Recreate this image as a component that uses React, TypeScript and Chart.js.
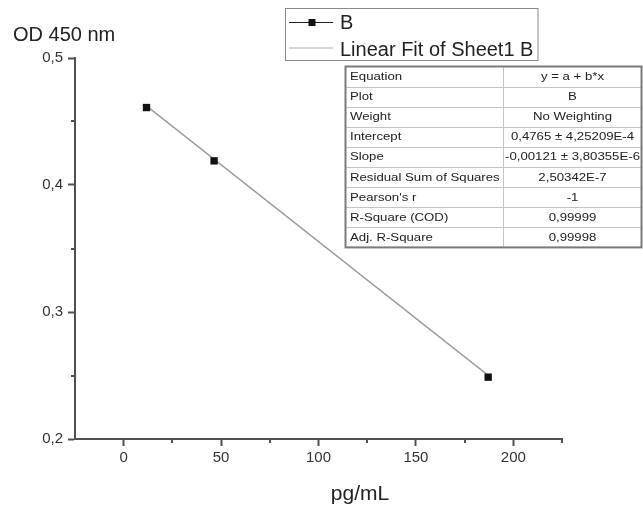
import React, { useEffect, useRef } from "react";
import { Chart, registerables } from "chart.js";

Chart.register(...registerables);

// ---- data ----
const pointsX = [11.7, 46.4, 187.1];
const pointsY = [0.461, 0.419, 0.2487];
const fitX = [11.7, 187.1];
const fitY = [0.4623, 0.2501];

const xMajorTicks = [0, 50, 100, 150, 200];
const xMinorTicks = [25, 75, 125, 175, 225];
const yMajorTicks = [0.2, 0.3, 0.4, 0.5];
const yMinorTicks = [0.25, 0.35, 0.45];

const legendLabels = ["B", "Linear Fit of Sheet1 B"];
const xTitle = "pg/mL";
const yTitle = "OD 450 nm";

const tableLabels = [
  "Equation",
  "Plot",
  "Weight",
  "Intercept",
  "Slope",
  "Residual Sum of Squares",
  "Pearson's r",
  "R-Square (COD)",
  "Adj. R-Square",
];
const tableValues = [
  "y = a + b*x",
  "B",
  "No Weighting",
  "0,4765 ± 4,25209E-4",
  "-0,00121 ± 3,80355E-6",
  "2,50342E-7",
  "-1",
  "0,99999",
  "0,99998",
];

const FONT = "'Liberation Sans', Arial, Helvetica, sans-serif";
const AXIS_COLOR = "#505050";

const overlayPlugin = {
  id: "originOverlay",
  afterDraw(chart: any) {
    const ctx: CanvasRenderingContext2D = chart.ctx;
    const xs = chart.scales.x;
    const ys = chart.scales.y;
    const area = chart.chartArea;
    ctx.save();

    // minor ticks
    ctx.strokeStyle = AXIS_COLOR;
    ctx.lineWidth = 2;
    ctx.beginPath();
    xMinorTicks.forEach((v) => {
      const px = Math.round(xs.getPixelForValue(v));
      ctx.moveTo(px, area.bottom);
      ctx.lineTo(px, area.bottom + 4);
    });
    yMinorTicks.forEach((v) => {
      const py = Math.round(ys.getPixelForValue(v));
      ctx.moveTo(area.left, py);
      ctx.lineTo(area.left - 4, py);
    });
    ctx.stroke();

    // axis titles
    ctx.fillStyle = "#222";
    ctx.font = `20px ${FONT}`;
    ctx.textBaseline = "middle";
    ctx.textAlign = "left";
    ctx.fillText(yTitle, 13, 35);
    ctx.font = `21px ${FONT}`;
    ctx.textAlign = "center";
    ctx.textBaseline = "alphabetic";
    ctx.fillText(xTitle, 360, 500);

    // legend box
    ctx.fillStyle = "#fff";
    ctx.fillRect(285.5, 8.5, 252.5, 52);
    ctx.strokeStyle = "#8a8a8a";
    ctx.lineWidth = 1;
    ctx.strokeRect(285.5, 8.5, 252.5, 52);
    // row 1 sample
    ctx.strokeStyle = "#222";
    ctx.lineWidth = 1;
    ctx.beginPath();
    ctx.moveTo(289, 22.5);
    ctx.lineTo(333, 22.5);
    ctx.stroke();
    ctx.fillStyle = "#111";
    ctx.fillRect(308.5, 19, 7, 7);
    // row 2 sample
    ctx.strokeStyle = "#b0b0b0";
    ctx.beginPath();
    ctx.moveTo(289, 48);
    ctx.lineTo(333, 48);
    ctx.stroke();
    ctx.fillStyle = "#222";
    ctx.font = `20px ${FONT}`;
    ctx.textAlign = "left";
    ctx.textBaseline = "middle";
    ctx.fillText(legendLabels[0], 340, 23);
    ctx.fillText(legendLabels[1], 340, 50);

    // table
    const tLeft = 345.5;
    const tRight = 641.5;
    const tTop = 66.5;
    const rowH = 20.1;
    const divX = 503.5;
    const tBottom = tTop + rowH * tableLabels.length;
    ctx.fillStyle = "#fff";
    ctx.fillRect(tLeft, tTop, tRight - tLeft, tBottom - tTop);
    ctx.strokeStyle = "#c4c4c4";
    ctx.lineWidth = 1;
    ctx.beginPath();
    for (let i = 1; i < tableLabels.length; i++) {
      const y = Math.round(tTop + rowH * i) + 0.5;
      ctx.moveTo(tLeft, y);
      ctx.lineTo(tRight, y);
    }
    ctx.moveTo(divX, tTop);
    ctx.lineTo(divX, tBottom);
    ctx.stroke();
    ctx.strokeStyle = "#7a7a7a";
    ctx.lineWidth = 2;
    ctx.strokeRect(tLeft, tTop, tRight - tLeft, tBottom - tTop);

    ctx.fillStyle = "#222";
    ctx.font = `11px ${FONT}`;
    ctx.textBaseline = "middle";
    const sx = 1.2;
    tableLabels.forEach((label, i) => {
      const cy = tTop + rowH * i + rowH / 2 + 0.5;
      ctx.save();
      ctx.translate(350, cy);
      ctx.scale(sx, 1);
      ctx.textAlign = "left";
      ctx.fillText(label, 0, 0);
      ctx.restore();
      ctx.save();
      ctx.translate((divX + tRight) / 2, cy);
      ctx.scale(sx, 1);
      ctx.textAlign = "center";
      ctx.fillText(tableValues[i], 0, 0);
      ctx.restore();
    });

    ctx.restore();
  },
};

export default function App() {
  const canvasRef = useRef<HTMLCanvasElement | null>(null);

  useEffect(() => {
    const canvas = canvasRef.current;
    if (!canvas) return;
    const chart = new Chart(canvas, {
      type: "scatter",
      data: {
        datasets: [
          {
            label: legendLabels[0],
            data: pointsX.map((x, i) => ({ x, y: pointsY[i] })),
            showLine: false,
            pointStyle: "rect",
            pointRadius: 5.2,
            backgroundColor: "#111",
            borderColor: "#111",
            borderWidth: 0,
            order: 0,
          },
          {
            label: legendLabels[1],
            data: fitX.map((x, i) => ({ x, y: fitY[i] })),
            showLine: true,
            pointRadius: 0,
            borderColor: "#9a9a9a",
            borderWidth: 1.3,
            order: 1,
          },
        ],
      },
      options: {
        responsive: false,
        animation: false,
        events: [],
        layout: { padding: { top: 58, right: 81, left: 0, bottom: 0 } },
        plugins: {
          legend: { display: false },
          tooltip: { enabled: false },
          title: { display: false },
        },
        scales: {
          x: {
            type: "linear",
            min: -25,
            max: 225,
            afterBuildTicks: (scale: any) => {
              scale.ticks = xMajorTicks.map((value) => ({ value }));
            },
            afterFit: (scale: any) => {
              scale.height = 66;
            },
            grid: {
              drawOnChartArea: false,
              drawTicks: true,
              tickLength: 7,
              tickColor: AXIS_COLOR,
              tickWidth: 2,
            },
            border: { display: true, color: AXIS_COLOR, width: 2 },
            ticks: {
              padding: 3,
              color: "#333",
              font: { family: FONT, size: 15 },
              maxRotation: 0,
              autoSkip: false,
              callback: (v: any) => String(v),
            },
          },
          y: {
            type: "linear",
            min: 0.2,
            max: 0.5,
            afterBuildTicks: (scale: any) => {
              scale.ticks = yMajorTicks.map((value) => ({ value }));
            },
            afterFit: (scale: any) => {
              scale.width = 75;
            },
            grid: {
              drawOnChartArea: false,
              drawTicks: true,
              tickLength: 7,
              tickColor: AXIS_COLOR,
              tickWidth: 2,
            },
            border: { display: true, color: AXIS_COLOR, width: 2 },
            ticks: {
              padding: 5,
              color: "#333",
              font: { family: FONT, size: 15 },
              autoSkip: false,
              callback: (v: any) => Number(v).toFixed(1).replace(".", ","),
            },
          },
        },
      },
      plugins: [overlayPlugin],
    });
    return () => chart.destroy();
  }, []);

  return (
    <div style={{ position: "absolute", left: 0, top: 0, width: 643, height: 505, background: "#fff" }}>
      <canvas ref={canvasRef} width={643} height={505} style={{ display: "block", width: 643, height: 505 }} />
    </div>
  );
}
